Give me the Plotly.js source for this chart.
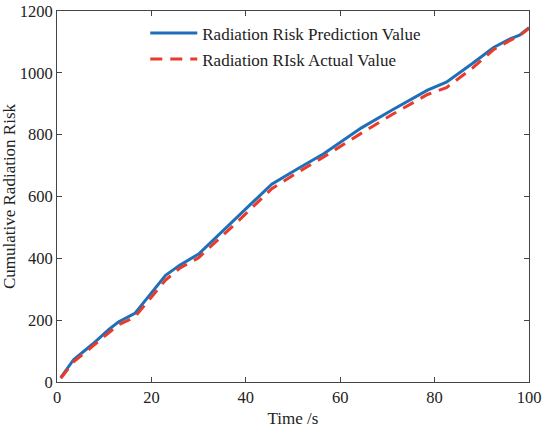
<!DOCTYPE html>
<html><head><meta charset="utf-8">
<script src="https://cdn.plot.ly/plotly-3.0.1.min.js"></script>
<style>body{margin:0;background:#fff}#c{width:545px;height:429px}</style>
</head><body><div id="c"></div>
<script>
const time = [0.8,3.5,7.5,11,13,16.5,23,26,30,38,45.5,51,56.5,64.5,71,78.5,82.5,88,92.5,96,98,100];
const predicted = [14,72,122,170,194,222,345,378,414,530,640,690,738,822,880,944,970,1030,1082,1110,1122,1146];
const actual = [12,65,115,160,185,210,330,368,402,515,625,678,728,805,865,930,952,1015,1075,1105,1120,1144];
const seriesNames = ['Radiation Risk Prediction Value','Radiation RIsk Actual Value'];
const xTicks = [0,20,40,60,80,100];
const yTicks = [0,200,400,600,800,1000,1200];
const font = 'Liberation Serif, Times New Roman, serif';
const traces = [
  {x: time, y: predicted, name: seriesNames[0], legendgroup: 'a', mode: 'lines', line: {color: '#1F6FB8', width: 3}},
  {x: time, y: actual, name: seriesNames[1], legendgroup: 'b', mode: 'lines', line: {color: '#EA3A2A', width: 3, dash: '12px,8px'}}
];
const axisCommon = {showgrid: false, zeroline: false, showline: true, mirror: 'ticks', linecolor: '#444', linewidth: 1,
  ticks: 'inside', ticklen: 5, tickcolor: '#444', tickfont: {family: font, size: 16.5, color: '#222'}};
const layout = {
  width: 545, height: 429,
  margin: {l: 57, r: 15.5, t: 11, b: 47},
  paper_bgcolor: '#fff', plot_bgcolor: '#fff',
  font: {family: font, color: '#222'},
  showlegend: true,
  legend: {x: 0.187, y: 0.988, xanchor: 'left', yanchor: 'top', bgcolor: 'rgba(0,0,0,0)', borderwidth: 0,
    itemwidth: 47, font: {family: font, size: 17, color: '#222'}, tracegroupgap: 1},
  xaxis: Object.assign({}, axisCommon, {range: [0, 100], tickvals: xTicks,
    title: {text: 'Time /s', font: {family: font, size: 17, color: '#222'}, standoff: 6}}),
  yaxis: Object.assign({}, axisCommon, {range: [0, 1200], tickvals: yTicks,
    title: {text: 'Cumulative Radiation Risk', font: {family: font, size: 17, color: '#222'}, standoff: 0}})
};
Plotly.newPlot('c', traces, layout, {displayModeBar: false, staticPlot: true});
</script></body></html>
